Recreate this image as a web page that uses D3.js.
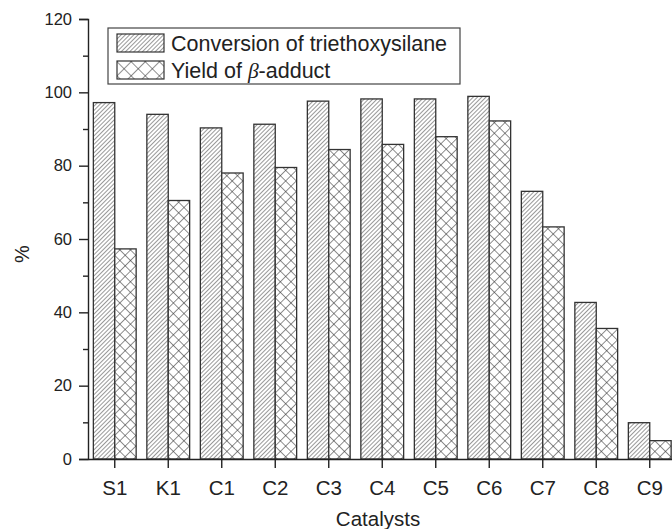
<!DOCTYPE html>
<html>
<head>
<meta charset="utf-8">
<script src="https://cdn.jsdelivr.net/npm/d3@7"></script>
<style>
  body { margin: 0; background: #fff; }
  svg text { font-family: "Liberation Sans", Arial, sans-serif; fill: #222; }
</style>
</head>
<body>
<div id="chart"></div>
<script>
'use strict';

// data
const catalysts = ['S1', 'K1', 'C1', 'C2', 'C3', 'C4', 'C5', 'C6', 'C7', 'C8', 'C9'];
const conversion = [97.2, 94.0, 90.3, 91.3, 97.6, 98.2, 98.2, 98.9, 73.0, 42.7, 9.9];
const yieldB = [57.3, 70.5, 78.0, 79.5, 84.4, 85.8, 87.9, 92.2, 63.3, 35.6, 5.0];
const yTicks = [0, 20, 40, 60, 80, 100, 120];
const seriesNames = ['Conversion of triethoxysilane', 'Yield of '];

(function() {
    let width = 672,
        height = 529,
        margin = { top: 19, left: 88, bottom: 70 };
    let plotRight = 676.5;

    let svg = d3.select('#chart')
        .append('svg')
        .attr('width', width)
        .attr('height', height);

    // hatch patterns
    let defs = svg.append('defs');
    defs.append('pattern')
        .attr('id', 'hatch')
        .attr('patternUnits', 'userSpaceOnUse')
        .attr('width', 3).attr('height', 3)
        .attr('patternTransform', 'rotate(45)')
        .call(p => p.append('rect').attr('width', 3).attr('height', 3).attr('fill', '#fff'))
        .append('line')
        .attr('x1', 0).attr('y1', 0).attr('x2', 0).attr('y2', 3)
        .attr('stroke', '#333').attr('stroke-width', 1);

    function crossPattern(id, size) {
        let p = defs.append('pattern')
            .attr('id', id)
            .attr('patternUnits', 'userSpaceOnUse')
            .attr('width', size).attr('height', size)
            .attr('patternTransform', 'rotate(45)');
        p.append('rect').attr('width', size).attr('height', size).attr('fill', '#fff');
        p.append('line').attr('x1', 0).attr('y1', 0).attr('x2', 0).attr('y2', size)
            .attr('stroke', '#333').attr('stroke-width', 1.1);
        p.append('line').attr('x1', 0).attr('y1', 0).attr('x2', size).attr('y2', 0)
            .attr('stroke', '#333').attr('stroke-width', 1.1);
    }
    crossPattern('cross', 7.5);
    crossPattern('crossLegend', 10);

    let x = d3.scaleBand()
        .domain(catalysts)
        .range([margin.left, plotRight])
        .paddingInner(0.2)
        .paddingOuter(0.1);

    let xs = d3.scaleBand()
        .domain([0, 1])
        .range([0, x.bandwidth()]);

    let y = d3.scaleLinear()
        .domain([0, 120])
        .range([height - margin.bottom, margin.top]);

    let fills = ['url(#hatch)', 'url(#cross)'];
    let series = [conversion, yieldB];

    let groups = svg.selectAll('.grp')
        .data(catalysts)
        .enter().append('g')
        .attr('class', 'grp')
        .attr('transform', d => 'translate(' + x(d) + ',0)');

    groups.selectAll('rect')
        .data((d, i) => series.map((s, k) => ({ k: k, v: s[i] })))
        .enter().append('rect')
        .attr('x', d => xs(d.k))
        .attr('y', d => y(d.v))
        .attr('width', xs.bandwidth())
        .attr('height', d => y(0) - y(d.v))
        .attr('fill', d => fills[d.k])
        .attr('stroke', '#333')
        .attr('stroke-width', 1.3);

    // y axis
    svg.append('g')
        .attr('class', 'yaxis')
        .attr('transform', 'translate(' + margin.left + ',0)')
        .call(d3.axisLeft(y).tickValues(yTicks).tickSize(9).tickPadding(7));
    svg.append('g')
        .attr('transform', 'translate(' + margin.left + ',0)')
        .call(d3.axisLeft(y).tickValues(d3.range(10, 120, 20)).tickSize(5).tickFormat(''))
        .call(g => g.select('.domain').remove());

    // x axis
    svg.append('g')
        .attr('class', 'xaxis')
        .attr('transform', 'translate(0,' + y(0) + ')')
        .call(d3.axisBottom(x).tickSize(9).tickPadding(12).tickSizeOuter(0));

    svg.selectAll('.domain, .tick line')
        .attr('stroke', '#222')
        .attr('stroke-width', 1.4);
    svg.selectAll('.yaxis .tick text')
        .style('font-size', '16.5px')
        .attr('fill', '#222');
    svg.selectAll('.xaxis .tick text')
        .style('font-size', '20.5px')
        .attr('fill', '#222');

    // axis titles
    svg.append('text')
        .attr('x', 378)
        .attr('y', 526)
        .attr('text-anchor', 'middle')
        .style('font-size', '20.5px')
        .text('Catalysts');

    svg.append('text')
        .attr('transform', 'translate(29,254) rotate(-90)')
        .attr('text-anchor', 'middle')
        .style('font-size', '20px')
        .text('%');

    // legend
    let legend = svg.append('g').attr('transform', 'translate(108,28)');
    legend.append('rect')
        .attr('width', 352).attr('height', 56)
        .attr('fill', '#fff').attr('stroke', '#444').attr('stroke-width', 1.2);

    let legendFills = ['url(#hatch)', 'url(#crossLegend)'];
    seriesNames.forEach((name, i) => {
        let row = legend.append('g').attr('transform', 'translate(9,' + (6 + i * 27) + ')');
        row.append('rect')
            .attr('width', 47).attr('height', 18)
            .attr('fill', legendFills[i])
            .attr('stroke', '#333').attr('stroke-width', 1.2);
        let t = row.append('text')
            .attr('x', 54).attr('y', 16.5)
            .style('font-size', '21.5px')
            .text(name);
        if (i === 1) {
            t.append('tspan')
                .style('font-family', '"Liberation Serif", "Times New Roman", serif')
                .style('font-style', 'italic')
                .text('β');
            t.append('tspan').text('-adduct');
        }
    });
})();
</script>
</body>
</html>
